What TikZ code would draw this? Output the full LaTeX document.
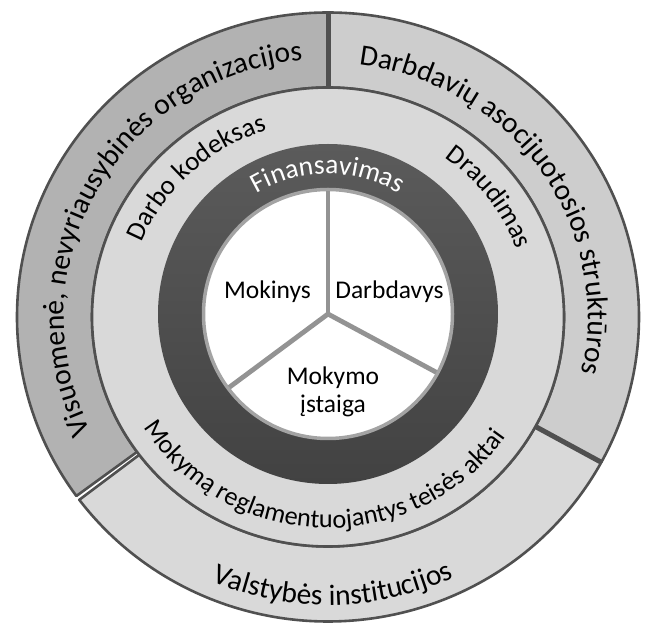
\documentclass[tikz,border=0pt]{standalone}
\usepackage{fontspec}
\setmainfont{Carlito}
\usetikzlibrary{decorations.text}
\definecolor{segLeft}{HTML}{B2B2B2}
\definecolor{segRight}{HTML}{CDCDCD}
\definecolor{segBottom}{HTML}{D9D9D9}
\definecolor{midRing}{HTML}{D9D9D9}
\definecolor{edgeDark}{HTML}{505050}
\definecolor{ringTop}{HTML}{5B5B5B}
\definecolor{ringBottom}{HTML}{424242}
\definecolor{pieLine}{HTML}{939393}
\definecolor{pieEdge}{HTML}{A3A3A3}
\newcommand{\outerfont}{\fontsize{29.5}{30}\selectfont}
\newcommand{\midfont}{\fontsize{27}{28}\selectfont}
\newcommand{\lawfont}{\fontsize{26.3}{28}\selectfont}
\newcommand{\finfont}{\fontsize{27.5}{28}\selectfont}
\newcommand{\innerfont}{\fontsize{25.5}{28}\selectfont}
\begin{document}
\begin{tikzpicture}[x=1pt,y=1pt,
  segment/.style={draw=edgeDark, line width=2.6pt, line join=round},
  separator/.style={draw=edgeDark, line width=5pt},
  pielabel/.style={font=\innerfont, inner sep=0pt, align=center},
  arctext/.style={decorate, decoration={text along path, text align=center, text={#1}}}]
\useasboundingbox (0,0) rectangle (646,624);
\coordinate (cO) at (328,307);
\coordinate (cI) at (328,310);
% outer ring segments
\begin{scope}[shift={(cO)}]
  \path[segment, fill=segLeft] (90:311pt and 304.5pt)
     arc[start angle=90, end angle=216, x radius=311pt, y radius=304.5pt]
     -- (216:236pt and 229.5pt)
     arc[start angle=216, end angle=90, x radius=236pt, y radius=229.5pt] -- cycle;
  \path[segment, fill=segRight] (90:311pt and 304.5pt)
     arc[start angle=90, end angle=-28.5, x radius=311pt, y radius=304.5pt]
     -- (-28.5:236pt and 229.5pt)
     arc[start angle=-28.5, end angle=90, x radius=236pt, y radius=229.5pt] -- cycle;
  \path[segment, fill=segBottom] (216.9:311pt and 304.5pt)
     arc[start angle=216.9, end angle=331.5, x radius=311pt, y radius=304.5pt]
     -- (331.5:236pt and 229.5pt)
     arc[start angle=331.5, end angle=216.9, x radius=236pt, y radius=229.5pt] -- cycle;
  \coordinate (sepTopIn) at (90:236pt and 229.5pt);
  \coordinate (sepTopOut) at (90:311pt and 304.5pt);
  \coordinate (sepRightIn) at (-28.5:236pt and 229.5pt);
  \coordinate (sepRightOut) at (-28.5:311pt and 304.5pt);
  \draw[separator] (sepTopIn) -- (sepTopOut);
  \draw[separator] (sepRightIn) -- (sepRightOut);
  % middle ring
  \path[segment, fill=midRing] (0,0) ellipse[x radius=236pt, y radius=229.5pt];
\end{scope}
% dark ring
\shade[top color=ringTop, bottom color=ringBottom] (cI) circle[radius=170pt];
% white pie
\path[fill=white, draw=pieEdge, line width=3.5pt] (cI) circle[radius=124.5pt];
\begin{scope}[shift={(cI)}]
  \coordinate (pieTop) at (90:123pt);
  \coordinate (pieLeft) at (216.6:123pt);
  \coordinate (pieRight) at (-28.3:123pt);
\end{scope}
\draw[pieLine, line width=4.8pt] (cI) -- (pieTop);
\draw[pieLine, line width=4.8pt] (cI) -- (pieLeft);
\draw[pieLine, line width=4.8pt] (cI) -- (pieRight);
% inner labels
\node[pielabel, anchor=base] (mokinys) at (267.5,325) {Mokinys};
\node[pielabel, anchor=base] (darbdavys) at (389.5,325) {Darbdavys};
\node[pielabel] (mokymo) at (333,232) {Mokymo\\įstaiga};
% curved texts, outer ring
\begin{scope}[shift={(cO)}]
  \path[arctext={|\outerfont|Visuomenė, nevyriausybinės organizacijos}]
     (226:264pt and 258pt) arc[start angle=226, end angle=76, x radius=264pt, y radius=258pt];
  \path[arctext={|\outerfont|Darbdavių asocijuotosios struktūros}]
     (105:260pt and 254pt) arc[start angle=105, end angle=-35, x radius=260pt, y radius=254pt];
  \path[arctext={|\outerfont|Valstybės institucijos}]
     (211:295pt and 288pt) arc[start angle=211, end angle=331, x radius=295pt, y radius=288pt];
  % middle ring
  \path[arctext={|\midfont|Darbo kodeksas}]
     (183:201pt and 196pt) arc[start angle=183, end angle=83, x radius=201pt, y radius=196pt];
  \path[arctext={|\midfont|Draudimas}]
     (82:201pt and 196pt) arc[start angle=82, end angle=-8, x radius=201pt, y radius=196pt];
  \path[arctext={|\lawfont|Mokymą reglamentuojantys teisės aktai}]
     (188.5:216pt and 211pt) arc[start angle=188.5, end angle=348.5, x radius=216pt, y radius=211pt];
\end{scope}
\begin{scope}[shift={(cI)}]
  \path[arctext={|\finfont\color{white}|Finansavimas}]
     (150:140pt) arc[start angle=150, end angle=30, radius=140pt];
\end{scope}
\end{tikzpicture}
\end{document}
